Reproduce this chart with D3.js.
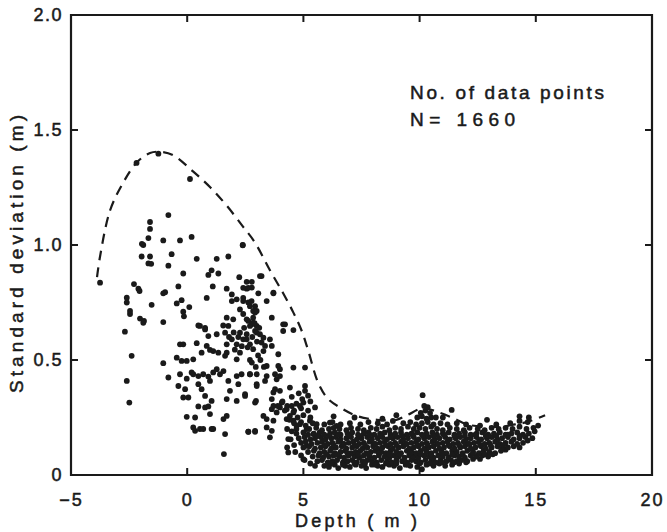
<!DOCTYPE html>
<html><head><meta charset="utf-8">
<script src="https://cdn.jsdelivr.net/npm/d3@7"></script>
<style>
html,body{margin:0;padding:0;background:#fff;}
#wrap{position:relative;width:667px;height:532px;}
#box{position:absolute;box-sizing:border-box;border:2px solid #1a1a1a;}
#c{position:absolute;left:0;top:0;}
svg text{font-family:"Liberation Sans",Arial,sans-serif;fill:#1a1a1a;stroke:#1a1a1a;stroke-width:0.5px;}
</style></head>
<body><div id="wrap"><div id="box"></div><svg id="c" width="667" height="532"></svg></div>
<script>
// ---- data ----
const xTicks = [-5, 0, 5, 10, 15, 20];
const xTickLabels = ["\u22125", "0", "5", "10", "15", "20"];
const yTicks = [0, 0.5, 1.0, 1.5, 2.0];
const yTickLabels = ["0", "0.5", "1.0", "1.5", "2.0"];
const innerXTicks = [0, 5, 10, 15];
const innerYTicks = [0.5, 1.0, 1.5];
const xTitle = "Depth  ( m )";
const yTitle = "Standard  deviation  (m)";
const noteLines = ["No. of data points", "N=  1660"];

// envelope (dashed)
const envDepth = [-3.88,-3.75,-3.32,-2.76,-2.16,-1.6,-1.17,-0.6,0.25,1.0,1.71,2.4,2.92,3.56,4.13,4.57,4.93,5.21,5.64,6.07,6.57,7.29,8.17,9.0,9.46,10.15,10.88,11.5,12.04,12.8,13.46,14.1,14.6,15.4];
const envStd   = [0.86,0.95,1.15,1.27,1.36,1.40,1.405,1.39,1.32,1.25,1.17,1.08,1.01,0.89,0.79,0.706,0.626,0.54,0.40,0.33,0.294,0.257,0.24,0.24,0.26,0.29,0.27,0.245,0.22,0.21,0.21,0.22,0.23,0.26];

// scattered observations [depth, std]
const sparsePoints = [
[-3.75,0.836],[-0.81,1.13],[-1.6,1.10],[-1.6,1.07],[-1.67,1.03],[-1.89,1.0],[-1.95,1.005],[-1.03,1.02],[-0.31,1.02],[0.19,1.035],
[-1.96,0.95],[-1.6,0.95],[-1.67,0.92],[-1.55,0.918],[-0.67,0.96],[-0.81,0.91],[0.41,0.94],[1.27,0.94],[1.77,0.95],[2.39,1.0],
[-0.17,0.876],[1.05,0.89],[0.91,0.87],[1.34,0.876],[2.24,0.86],[-0.38,0.82],[-2.29,0.83],[-2.1,0.81],[-2.05,0.80],[-1.03,0.79],
[-0.95,0.795],[1.1,0.82],[1.7,0.81],[2.56,0.84],[2.78,0.84],[2.56,0.81],[2.78,0.815],[1.92,0.785],[0.84,0.77],[-2.6,0.75],
[-1.53,0.74],[-0.45,0.746],[-0.24,0.76],[0.09,0.73],[-0.17,0.71],[-0.14,0.69],[-2.46,0.70],[-2.03,0.68],[-1.86,0.67],[-1.03,0.665],
[1.92,0.756],[2.13,0.764],[2.41,0.77],[2.63,0.75],[2.27,0.72],[2.70,0.734],[2.92,0.706],[1.70,0.684],[1.98,0.677],[2.41,0.70],
[2.63,0.67],[2.84,0.684],[0.48,0.65],[0.77,0.64],[1.55,0.65],[1.77,0.648],
[3.2,0.865],[2.41,0.814],[2.63,0.814],[3.06,0.79],[3.71,0.79],[2.41,0.756],[2.77,0.756],[2.92,0.734],[2.84,0.713],[2.99,0.713],
[3.42,0.756],[3.64,0.684],[2.56,0.677],[2.78,0.655],[2.99,0.648],[2.92,0.626],[3.13,0.612],[3.28,0.597],[3.2,0.576],[3.35,0.561],
[3.28,0.539],[4.13,0.655],[4.13,0.626],[4.57,0.63],[3.56,0.59],[3.64,0.561],[3.92,0.525],[2.78,0.489],[3.42,0.474],[3.92,0.474],
[3.99,0.46],[4.57,0.467],[5.07,0.467],[2.70,0.438],[2.99,0.438],[3.42,0.43],[3.78,0.438],[3.85,0.416],[3.99,0.43],[2.99,0.395],
[3.35,0.409],[3.78,0.373],[3.71,0.359],[3.99,0.366],[4.42,0.38],[5.07,0.387],[5.07,0.366],[2.49,0.351],[2.92,0.315],[3.64,0.33],
[3.71,0.30],[3.64,0.286],[3.85,0.272],[4.07,0.315],[3.99,0.294],[4.28,0.286],[4.5,0.30],[4.57,0.272],[4.42,0.257],[5.0,0.315],
[5.5,0.294],[3.28,0.257],[3.42,0.243],[3.71,0.236],[2.63,0.188],[2.92,0.192],[3.42,0.207],[3.64,0.192],[3.56,0.164],[4.35,0.156],
[4.35,0.098],[4.28,0.243],[4.57,0.236],[4.71,0.214],[4.85,0.221],[5.14,0.20],[5.28,0.236],[5.57,0.221],[5.43,0.178],[5.14,0.127],
[5.0,0.069],[6.14,0.228],[6.43,0.214],[4.85,0.30],
[-2.68,0.623],[-2.39,0.518],[-2.6,0.409],[-2.49,0.315],[-1.89,0.662],[-1.03,0.486],[-0.81,0.424],[-0.31,0.568],[-0.17,0.568],[0.41,0.573],
[-0.45,0.51],[-0.24,0.496],[-0.02,0.496],[0.26,0.503],[0.55,0.648],[0.77,0.633],[0.91,0.604],[1.27,0.612],[1.63,0.619],[0.84,0.561],
[0.98,0.544],[1.12,0.539],[0.62,0.532],[1.34,0.532],[1.70,0.532],[1.63,0.518],[1.7,0.568],[1.92,0.59],[2.13,0.568],[2.27,0.619],
[2.56,0.612],[2.41,0.59],[2.27,0.532],[2.13,0.503],[2.70,0.648],[2.84,0.662],[2.99,0.619],[2.56,0.59],[2.70,0.568],[2.84,0.547],
[-0.31,0.438],[-0.02,0.419],[0.19,0.446],[0.26,0.438],[0.48,0.43],[0.69,0.438],[0.91,0.428],[0.98,0.409],[1.12,0.446],[1.27,0.46],
[1.41,0.438],[1.56,0.452],[1.77,0.409],[2.13,0.43],[2.34,0.438],[2.2,0.395],[2.70,0.438],[2.99,0.387],[-0.38,0.387],[-0.09,0.373],
[0.48,0.395],[0.62,0.373],[1.84,0.366],[2.49,0.344],[-0.17,0.337],[0.05,0.337],[0.77,0.344],[1.05,0.322],[1.70,0.33],[2.13,0.322],
[2.96,0.322],[0.48,0.298],[0.77,0.294],[0.91,0.298],[0.98,0.265],[-0.02,0.253],[0.34,0.25],[1.56,0.243],[1.70,0.257],[0.26,0.207],
[0.34,0.192],[0.55,0.20],[0.69,0.20],[1.05,0.20],[1.12,0.20],[1.63,0.178],[2.63,0.188],[2.92,0.188],[1.58,0.091],
[0.12,1.287],[2.39,0.999],[3.13,0.865],[3.71,0.793],[4.21,0.655],[-2.18,1.357],[-1.24,1.397],[-2.6,0.771],[-2.46,0.713],
[2.0,0.62],[2.2,0.6],[2.45,0.64],[2.6,0.555],[2.8,0.6],[3.0,0.58],[3.05,0.52],[2.95,0.47],[3.15,0.5],[3.3,0.47],[2.7,0.5],[2.35,0.56],[1.8,0.6],[2.05,0.545],[2.9,0.66],[3.1,0.64]
];

// dense cluster in deeper water [depth, std]
const densePoints = [
[4.3,.2],[4.5,.19],[4.7,.2],[4.6,.225],[4.9,.23],[5.1,.215],[4.4,.24],[4.75,.25],[5.0,.26],[5.3,.25],[4.2,.28],[4.6,.28],[4.9,.29],[5.2,.28],[3.9,.3],[4.1,.32],[4.3,.3],[4.7,.31],[4.95,.33],[5.3,.32],[4.5,.34],[4.8,.355],[5.2,.345],[4.45,.155],[4.6,.13],[4.65,.1],[4.9,.085],[5.05,.065],[5.3,.05],[5.5,.04],[4.3,.12],
[5.9,.04],[6.1,.035],[6.35,.045],[6.5,.03],[6.8,.04],[7.0,.035],[7.25,.045],[7.5,.04],[7.7,.03],[7.95,.045],[8.2,.04],[8.4,.035],[8.7,.045],[8.9,.04],[9.15,.03],[9.4,.045],[9.6,.04],[9.9,.035],[10.1,.025],[10.3,.045],[10.6,.04],[10.85,.05],[11.1,.04],[11.4,.045],[11.7,.05],[12.0,.055],
[5.6,.06],[5.8,.065],[6.05,.055],[6.25,.06],[6.45,.065],[6.7,.055],[6.9,.06],[7.1,.065],[7.3,.055],[7.55,.06],[7.75,.065],[7.95,.06],[8.15,.055],[8.35,.065],[8.6,.06],[8.8,.055],[9.0,.065],[9.25,.06],[9.45,.055],[9.65,.065],[9.85,.06],[10.05,.055],[10.25,.065],[10.5,.06],[10.7,.055],[10.9,.065],[11.15,.06],[11.35,.065],[11.6,.06],[11.8,.065],[12.05,.06],[12.3,.07],[12.6,.07],
[5.4,.08],[5.65,.085],[5.85,.075],[6.1,.08],[6.3,.085],[6.55,.08],[6.75,.075],[6.95,.085],[7.2,.08],[7.4,.075],[7.6,.085],[7.85,.08],[8.05,.075],[8.25,.085],[8.5,.08],[8.7,.075],[8.9,.085],[9.1,.08],[9.35,.075],[9.55,.085],[9.75,.08],[9.95,.075],[10.2,.085],[10.4,.08],[10.6,.075],[10.8,.085],[11.0,.08],[11.25,.075],[11.5,.085],[11.7,.08],[11.95,.075],[12.2,.085],[12.45,.08],[12.7,.085],[12.95,.08],[13.15,.09],
[5.2,.1],[5.45,.105],[5.7,.095],[5.9,.1],[6.15,.105],[6.35,.095],[6.6,.1],[6.8,.105],[7.05,.095],[7.25,.1],[7.45,.105],[7.7,.095],[7.9,.1],[8.1,.105],[8.35,.1],[8.55,.095],[8.75,.105],[9.0,.1],[9.2,.095],[9.45,.105],[9.65,.1],[9.85,.095],[10.05,.105],[10.3,.1],[10.5,.095],[10.7,.105],[10.95,.1],[11.15,.095],[11.4,.105],[11.6,.1],[11.85,.095],[12.05,.105],[12.3,.1],[12.55,.095],[12.75,.105],[13.0,.1],[13.25,.095],[13.5,.105],[13.7,.11],
[5.0,.12],[5.25,.125],[5.5,.115],[5.75,.12],[5.95,.125],[6.2,.115],[6.4,.12],[6.65,.125],[6.85,.115],[7.1,.12],[7.3,.125],[7.55,.115],[7.75,.12],[8.0,.125],[8.2,.115],[8.4,.12],[8.65,.125],[8.85,.115],[9.1,.12],[9.3,.125],[9.55,.115],[9.75,.12],[9.95,.125],[10.2,.115],[10.4,.12],[10.6,.125],[10.85,.115],[11.05,.12],[11.3,.125],[11.5,.115],[11.75,.12],[11.95,.125],[12.2,.115],[12.4,.12],[12.65,.125],[12.85,.115],[13.1,.12],[13.35,.125],[13.55,.115],[13.8,.12],[14.05,.125],[14.3,.12],
[4.9,.14],[5.1,.145],[5.35,.135],[5.6,.14],[5.8,.145],[6.05,.135],[6.25,.14],[6.5,.145],[6.7,.135],[6.95,.14],[7.15,.145],[7.4,.135],[7.6,.14],[7.85,.145],[8.05,.135],[8.3,.14],[8.5,.145],[8.75,.135],[8.95,.14],[9.2,.145],[9.4,.135],[9.65,.14],[9.85,.145],[10.1,.135],[10.3,.14],[10.55,.145],[10.75,.135],[11.0,.14],[11.2,.145],[11.45,.135],[11.65,.14],[11.9,.145],[12.1,.135],[12.35,.14],[12.55,.145],[12.8,.135],[13.0,.14],[13.25,.145],[13.45,.135],[13.7,.14],[13.95,.145],[14.2,.135],[14.45,.14],[14.65,.15],
[4.8,.16],[5.05,.165],[5.3,.155],[5.5,.16],[5.75,.165],[5.95,.155],[6.2,.16],[6.4,.165],[6.6,.155],[6.85,.16],[7.05,.165],[7.3,.155],[7.5,.16],[7.75,.165],[7.95,.155],[8.2,.16],[8.4,.165],[8.6,.155],[8.85,.16],[9.05,.165],[9.3,.155],[9.5,.16],[9.75,.165],[9.95,.155],[10.2,.16],[10.4,.165],[10.65,.155],[10.85,.16],[11.1,.165],[11.3,.155],[11.55,.16],[11.75,.165],[12.0,.155],[12.2,.16],[12.45,.165],[12.65,.155],[12.9,.16],[13.1,.165],[13.35,.155],[13.55,.16],[13.8,.165],[14.05,.155],[14.3,.16],[14.55,.165],[14.85,.16],
[4.7,.18],[5.0,.185],[5.2,.175],[5.45,.18],[5.7,.185],[5.9,.175],[6.15,.18],[6.35,.185],[6.6,.175],[6.9,.18],[7.1,.185],[7.35,.175],[7.6,.18],[7.8,.185],[8.05,.175],[8.3,.18],[8.5,.185],[8.75,.175],[8.95,.18],[9.2,.185],[9.45,.175],[9.65,.18],[9.9,.185],[10.1,.175],[10.3,.18],[10.55,.185],[10.75,.175],[11.0,.18],[11.25,.185],[11.5,.175],[11.7,.18],[11.95,.185],[12.2,.175],[12.45,.18],[12.7,.185],[12.95,.175],[13.2,.18],[13.45,.185],[13.7,.175],[13.95,.18],[14.2,.185],[14.45,.175],[14.7,.18],[14.95,.19],
[5.25,.2],[5.55,.205],[5.8,.195],[6.1,.2],[6.3,.205],[6.55,.2],[6.85,.195],[7.05,.205],[7.35,.2],[7.6,.195],[7.9,.205],[8.15,.2],[8.4,.21],[8.7,.195],[8.95,.205],[9.2,.2],[9.5,.21],[9.75,.2],[10.0,.205],[10.25,.2],[10.5,.21],[10.75,.2],[11.0,.195],[11.3,.205],[11.6,.2],[11.9,.195],[12.15,.205],[12.5,.2],[12.8,.195],[13.1,.205],[13.4,.2],[13.7,.205],[14.0,.2],[14.3,.21],[14.6,.2],[14.9,.205],[15.1,.215],
[5.4,.225],[5.9,.22],[6.25,.23],[6.6,.22],[7.0,.225],[7.45,.22],[7.8,.23],[8.2,.225],[8.6,.22],[8.85,.235],[9.3,.225],[9.6,.23],[9.85,.22],[10.1,.225],[10.35,.23],[10.6,.22],[10.9,.225],[11.2,.22],[11.6,.225],[12.0,.22],[12.6,.215],[13.3,.22],[13.9,.225],[14.3,.235],[14.65,.23],
[9.9,.25],[10.1,.255],[10.3,.245],[10.5,.25],[10.7,.25],[10.05,.27],[10.25,.28],[10.45,.27],[10.2,.3],[10.35,.295],[10.13,.347],[11.38,.283],[8.4,.245],[7.2,.25],[6.3,.255],[9.0,.26],[11.0,.25],[14.3,.255],[14.7,.25],[12.9,.24],
[6.0,.09],[6.45,.09],[6.9,.095],[7.35,.09],[7.8,.09],[8.25,.095],[8.7,.09],[9.15,.09],[9.6,.095],[10.05,.09],[10.5,.09],[10.95,.095],[11.4,.09],[11.85,.09],[12.3,.095],[12.8,.09],
[5.9,.13],[6.3,.13],[6.75,.135],[7.2,.13],[7.65,.13],[8.1,.135],[8.55,.13],[9.0,.13],[9.45,.135],[9.9,.13],[10.35,.13],[10.8,.135],[11.25,.13],[11.7,.13],[12.15,.135],[12.6,.13],[13.05,.13],[13.6,.13],
[5.6,.17],[6.1,.17],[6.5,.175],[6.95,.17],[7.4,.17],[7.85,.175],[8.3,.17],[8.75,.165],[9.25,.17],[9.7,.175],[10.15,.17],[10.6,.17],[11.05,.175],[11.5,.17],[11.95,.17],[12.4,.175],[12.85,.17],[13.3,.17],[13.8,.175],[14.3,.17],
[6.2,.05],[6.7,.045],[7.2,.05],[7.65,.05],[8.1,.045],[8.55,.05],[9.0,.05],[9.5,.045],[10.0,.05],[10.45,.05],[10.95,.055],[11.5,.055]
];

// ---- chart ----
const svg = d3.select("#c");
const L = 71, R = 652, T = 15, B = 475;
const x = d3.scaleLinear().domain([-5, 20]).range([L, R]);
const y = d3.scaleLinear().domain([0, 2]).range([B, T]);
const ink = "#1a1a1a";
const tl = 7;

// backup frame box placed from the scales
d3.select("#box").style("left", (x(-5) - 1) + "px").style("top", (y(2) - 1) + "px")
  .style("width", (x(20) - x(-5) + 2) + "px").style("height", (y(0) - y(2) + 2) + "px");

// bottom labels
const gx = svg.append("g").attr("transform", `translate(0,${B})`)
  .call(d3.axisBottom(x).tickValues(xTicks).tickSize(0).tickPadding(18)
    .tickFormat((d, i) => xTickLabels[i]));
gx.select(".domain").remove();
gx.selectAll("text").attr("font-size", 18).attr("letter-spacing", 2).attr("fill", ink);

// left labels
const gy = svg.append("g").attr("transform", `translate(${L},0)`)
  .call(d3.axisLeft(y).tickValues(yTicks).tickSize(0).tickPadding(8)
    .tickFormat((d, i) => yTickLabels[i]));
gy.select(".domain").remove();
gy.selectAll("text").attr("font-size", 18).attr("letter-spacing", 1.5).attr("fill", ink);

// axis titles
svg.append("text").attr("x", 356).attr("y", 527).attr("text-anchor", "middle")
  .attr("font-size", 18).attr("textLength", 122).attr("lengthAdjust", "spacing").text(xTitle);
svg.append("text").attr("transform", "translate(23,254) rotate(-90)").attr("text-anchor", "middle")
  .attr("font-size", 19).attr("textLength", 278).attr("lengthAdjust", "spacing").text(yTitle);

// annotation
svg.append("g").selectAll("text").data(noteLines).join("text")
  .attr("x", 410).attr("y", (d, i) => 99 + i * 27)
  .attr("font-size", 19).attr("textLength", (d, i) => i === 0 ? 194 : 105)
  .attr("lengthAdjust", "spacing").text(d => d);

// points
const allPts = sparsePoints.concat(densePoints);
svg.append("g").selectAll("circle").data(allPts).join("circle")
  .attr("cx", d => x(d[0])).attr("cy", d => y(d[1])).attr("r", 2.9).attr("fill", ink);

// dashed envelope
const env = envDepth.map((d, i) => [d, envStd[i]]);
svg.append("path").datum(env)
  .attr("d", d3.line().x(d => x(d[0])).y(d => y(d[1])).curve(d3.curveCatmullRom.alpha(0.5)))
  .attr("fill", "none").attr("stroke", ink).attr("stroke-width", 2.2)
  .attr("stroke-dasharray", "10,7");

// frame and inward ticks
svg.append("path")
  .attr("d", `M${x(-5)},${y(2)}H${x(20)}V${y(0)}H${x(-5)}Z`)
  .attr("fill", "none").attr("stroke", ink).attr("stroke-width", 2.2);
let tk = "";
innerXTicks.forEach(v => { tk += `M${x(v)},${y(0)}v${-tl}M${x(v)},${y(2)}v${tl}`; });
innerYTicks.forEach(v => { tk += `M${x(-5)},${y(v)}h${tl}M${x(20)},${y(v)}h${-tl}`; });
svg.append("path").attr("d", tk).attr("fill", "none").attr("stroke", ink).attr("stroke-width", 2);
</script></body></html>
